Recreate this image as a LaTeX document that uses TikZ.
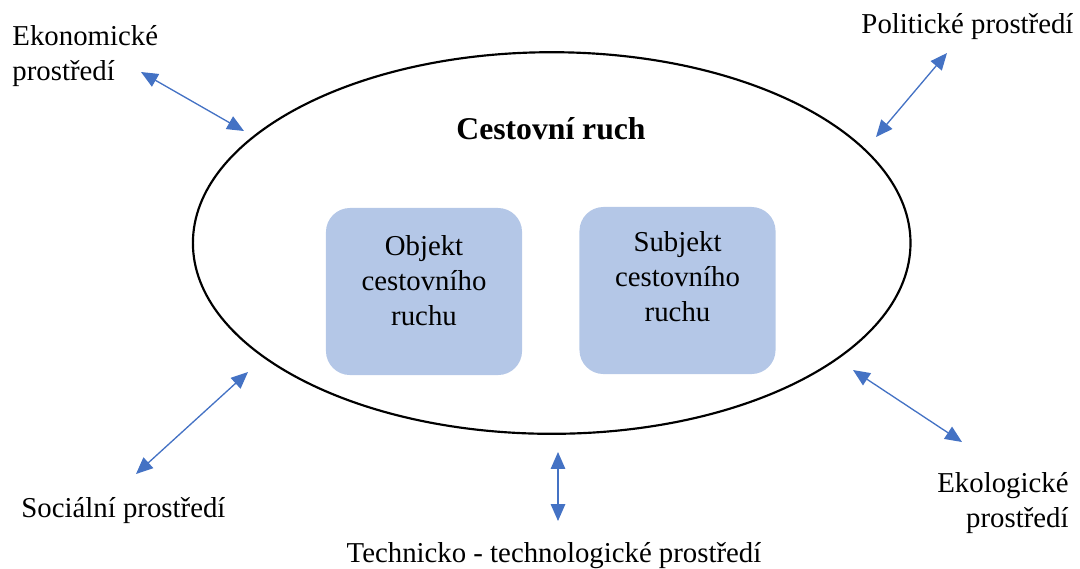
\documentclass[tikz,border=0pt]{standalone}
\usepackage{fontspec}
\setmainfont{Liberation Serif}
\usetikzlibrary{arrows.meta,shapes.geometric}
\definecolor{wordblue}{RGB}{68,114,196}
\definecolor{boxblue}{RGB}{180,199,231}

\begin{document}
\begin{tikzpicture}[
    x=0.41667pt, y=-0.41667pt,
    font=\fontsize{12}{14.2}\selectfont,
    env/.style={inner sep=0pt},
    part/.style={fill=boxblue, rounded corners=10pt, minimum width=81.7pt, minimum height=69.6pt, inner sep=0pt},
    parttxt/.style={align=center, inner sep=0pt, font=\fontsize{12}{14.6}\selectfont},
    link/.style={draw=wordblue, line width=0.55pt, {Triangle[length=7pt,width=6pt]}-{Triangle[length=7pt,width=6pt]}}
  ]
  \useasboundingbox (0,0) rectangle (1080,568);

  % ---- the tourism ellipse ----
  \node[draw, ellipse, line width=0.9pt, minimum width=299pt, minimum height=159pt, inner sep=0pt]
    (tourism) at (551.7,243) {};
  \node[font=\fontsize{13.2}{16}\selectfont\bfseries] (title) at (551,129) {Cestovní ruch};

  % ---- object and subject ----
  \node[part] (objbox) at (424,291.5) {};
  \node[parttxt] (objtxt) at (424,281) {Objekt\\cestovního\\ruchu};
  \node[part] (subjbox) at (677.5,290.5) {};
  \node[parttxt] (subjtxt) at (677.5,277) {Subjekt\\cestovního\\ruchu};

  % ---- surroundings ----
  \node[env, anchor=base west, align=left] (eko) at (12,80) {Ekonomické\\prostředí};
  \node[env, anchor=base west] (pol) at (861,33) {Politické prostředí};
  \node[env, anchor=base west] (soc) at (21,517) {Sociální prostředí};
  \node[env, anchor=base east, align=right] (ekol) at (1069,527) {Ekologické\\prostředí};
  \node[env, anchor=base] (tech) at (554,562) {Technicko - technologické prostředí};

  % ---- arrow ends ----
  \coordinate (eko-out) at (141,72);
  \coordinate (eko-in) at (244,131);
  \coordinate (pol-out) at (947,53);
  \coordinate (pol-in) at (876,137);
  \coordinate (soc-out) at (136,474);
  \coordinate (soc-in) at (248,372);
  \coordinate (ekol-out) at (962,442);
  \coordinate (ekol-in) at (853,370);
  \coordinate (tech-out) at (558,521);
  \coordinate (tech-in) at (558,452);

  \draw[link] (eko-out) -- (eko-in);
  \draw[link] (pol-out) -- (pol-in);
  \draw[link] (soc-out) -- (soc-in);
  \draw[link] (ekol-out) -- (ekol-in);
  \draw[link] (tech-out) -- (tech-in);
\end{tikzpicture}
\end{document}
